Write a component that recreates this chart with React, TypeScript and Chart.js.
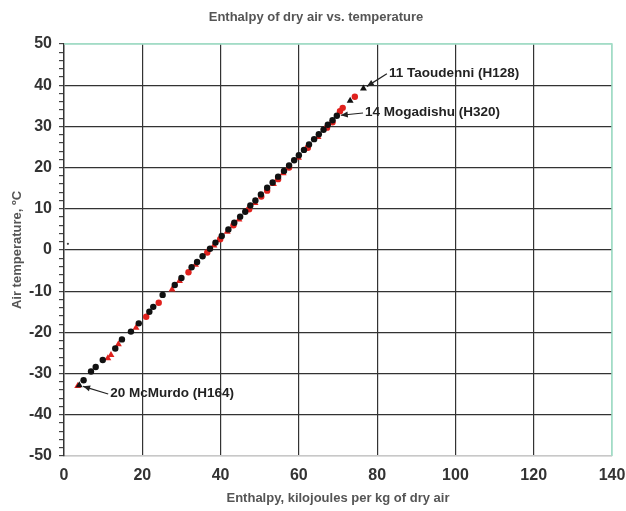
import { useEffect, useRef } from 'react';
import { Chart, registerables } from 'chart.js';

Chart.register(...registerables);

// Black station series
const blackTemp = [-32.8, -31.6, -29.5, -28.4, -26.7, -23.9, -21.7, -19.8, -17.8, -15.0, -13.8, -10.9, -8.5, -6.8, -4.2, -2.9, -1.5, 0.3, 1.8, 3.4, 5.0, 6.6, 8.1, 9.3, 10.8, 12.0, 13.5, 15.1, 16.4, 17.8, 19.2, 20.5, 21.8, 23.0, 24.3, 25.6, 26.9, 28.1, 29.2, 30.4, 31.5, 32.6, 36.2, 39.2];
const blackEnthalpy = [3.9, 5.0, 6.9, 8.1, 9.9, 13.1, 14.8, 17.1, 19.1, 21.8, 22.8, 25.2, 28.3, 30.0, 32.6, 34.0, 35.4, 37.3, 38.7, 40.3, 42.0, 43.5, 45.0, 46.3, 47.6, 48.9, 50.3, 51.9, 53.3, 54.7, 56.2, 57.5, 58.8, 60.0, 61.3, 62.6, 63.9, 65.1, 66.3, 67.4, 68.6, 69.7, 73.1, 76.5];
const blackShape = ['triangle', 'circle', 'circle', 'circle', 'circle', 'circle', 'circle', 'circle', 'circle', 'circle', 'circle', 'circle', 'circle', 'circle', 'circle', 'circle', 'circle', 'circle', 'circle', 'circle', 'circle', 'circle', 'circle', 'circle', 'circle', 'circle', 'circle', 'circle', 'circle', 'circle', 'circle', 'circle', 'circle', 'circle', 'circle', 'circle', 'circle', 'circle', 'circle', 'circle', 'circle', 'circle', 'triangle', 'triangle'];

// Red station series
const redTemp = [-33.0, -26.3, -25.5, -22.9, -18.9, -16.2, -12.8, -9.6, -7.5, -5.4, -3.6, -0.6, 1.1, 2.6, 4.4, 6.0, 7.4, 9.9, 11.4, 13.0, 14.4, 16.0, 17.2, 18.6, 20.0, 22.4, 24.8, 27.4, 29.7, 31.0, 33.7, 34.5, 37.2];
const redEnthalpy = [3.5, 11.2, 12.0, 13.9, 18.4, 21.0, 24.2, 27.6, 29.5, 31.8, 33.6, 36.6, 38.3, 39.9, 41.7, 43.3, 44.7, 47.3, 48.8, 50.4, 51.9, 53.5, 54.7, 56.0, 57.5, 59.9, 62.3, 64.9, 67.2, 68.6, 70.5, 71.2, 74.3];
const redShape = ['triangle', 'triangle', 'triangle', 'triangle', 'triangle', 'circle', 'circle', 'triangle', 'triangle', 'circle', 'triangle', 'circle', 'triangle', 'circle', 'triangle', 'circle', 'triangle', 'circle', 'triangle', 'circle', 'circle', 'triangle', 'circle', 'triangle', 'circle', 'triangle', 'circle', 'triangle', 'circle', 'circle', 'circle', 'circle', 'circle'];

// Stray speck
const strayTemp = [1.5];
const strayEnthalpy = [1.0];

// Labelled stations
const labelNames = ['11 Taoudenni (H128)', '14 Mogadishu (H320)', '20 McMurdo (H164)'];
const labelPointX = [76.5, 69.7, 3.9];
const labelPointY = [39.2, 32.6, -32.8];
const labelTextX = [83.0, 76.9, 11.8];
const labelTextY = [43.0, 33.5, -34.7];

const xMin = 0, xMax = 140, xStep = 20;
const yMin = -50, yMax = 50, yStep = 2, yMajor = 10;

const titleText = 'Enthalpy of dry air vs. temperature';
const xTitle = 'Enthalpy, kilojoules per kg of dry air';
const yTitle = 'Air temperature, ºC';

const FONT = '"Liberation Sans", Arial, sans-serif';
const TEAL = '#a3dcc6';
const GRID = '#333333';

const toPoints = (xs: number[], ys: number[]) => xs.map((x, i) => ({ x, y: ys[i] }));

const framePlugin = {
  id: 'frame',
  beforeDatasetsDraw(chart: any) {
    const { ctx, chartArea: a } = chart;
    ctx.save();
    ctx.strokeStyle = TEAL;
    ctx.lineWidth = 1.5;
    ctx.beginPath();
    ctx.moveTo(a.left, a.top);
    ctx.lineTo(a.right, a.top);
    ctx.lineTo(a.right, a.bottom);
    ctx.stroke();
    ctx.fillStyle = '#555';
    ctx.font = 'bold 13px ' + FONT;
    ctx.textAlign = 'center';
    ctx.textBaseline = 'middle';
    ctx.fillText(titleText, chart.width / 2 + 3, 17);
    ctx.restore();
  },
};

const annotPlugin = {
  id: 'annot',
  afterDatasetsDraw(chart: any) {
    const { ctx } = chart;
    const xs = chart.scales.x;
    const ys = chart.scales.y;
    ctx.save();
    ctx.font = 'bold 13.5px ' + FONT;
    ctx.fillStyle = '#222';
    ctx.textAlign = 'left';
    ctx.textBaseline = 'middle';
    labelNames.forEach((name, i) => {
      const px = xs.getPixelForValue(labelPointX[i]);
      const py = ys.getPixelForValue(labelPointY[i]);
      const tx = xs.getPixelForValue(labelTextX[i]);
      const ty = ys.getPixelForValue(labelTextY[i]);
      ctx.fillText(name, tx, ty);
      const sx = tx - 2;
      const sy = ty + 1;
      const dx = sx - px;
      const dy = sy - py;
      const len = Math.hypot(dx, dy);
      const ux = dx / len;
      const uy = dy / len;
      const ex = px + ux * 4;
      const ey = py + uy * 4;
      ctx.strokeStyle = '#222';
      ctx.lineWidth = 1.2;
      ctx.beginPath();
      ctx.moveTo(sx, sy);
      ctx.lineTo(ex, ey);
      ctx.stroke();
      const hl = 7, hw = 3;
      ctx.beginPath();
      ctx.moveTo(ex, ey);
      ctx.lineTo(ex + ux * hl - uy * hw, ey + uy * hl + ux * hw);
      ctx.lineTo(ex + ux * hl + uy * hw, ey + uy * hl - ux * hw);
      ctx.closePath();
      ctx.fill();
    });
    ctx.restore();
  },
};

export default function App() {
  const ref = useRef<HTMLCanvasElement>(null);
  useEffect(() => {
    if (!ref.current) return;
    const chart = new Chart(ref.current, {
      type: 'scatter',
      data: {
        datasets: [
          {
            label: 'black',
            data: toPoints(blackEnthalpy, blackTemp),
            backgroundColor: '#111',
            borderColor: '#111',
            borderWidth: 0,
            pointStyle: blackShape as any,
            pointRadius: blackShape.map((s) => (s === 'triangle' ? 4 : 3.2)),
          },
          {
            label: 'red',
            data: toPoints(redEnthalpy, redTemp),
            backgroundColor: '#e0211d',
            borderColor: '#e0211d',
            borderWidth: 0,
            pointStyle: redShape as any,
            pointRadius: redShape.map((s) => (s === 'triangle' ? 4 : 3.2)),
          },
          {
            label: 'stray',
            data: toPoints(strayEnthalpy, strayTemp),
            backgroundColor: '#444',
            borderWidth: 0,
            pointRadius: 1.1,
          },
        ],
      },
      options: {
        animation: false,
        responsive: false,
        layout: { padding: { left: 0, right: 14, top: 44, bottom: 0 } },
        plugins: {
          legend: { display: false },
          tooltip: { enabled: false },
          title: { display: false },
        },
        scales: {
          x: {
            type: 'linear',
            min: xMin,
            max: xMax,
            ticks: {
              stepSize: xStep,
              color: '#333',
              font: { family: FONT, size: 16, weight: 'bold' },
              padding: 10,
              maxRotation: 0,
            },
            grid: {
              drawTicks: false,
              color: (c: any) => (c.tick && c.tick.value === xMax ? TEAL : c.tick && c.tick.value === xMin ? 'transparent' : GRID),
              lineWidth: 1.2,
            },
            border: { display: true, color: '#c8c8c8', width: 1.5 },
            title: {
              display: true,
              text: xTitle,
              color: '#555',
              font: { family: FONT, size: 13, weight: 'bold' },
              padding: { top: 0, bottom: 5 },
            },
            afterFit: (s: any) => {
              s.height = 55;
              s.paddingLeft = 0;
              s.paddingRight = 0;
            },
          } as any,
          y: {
            type: 'linear',
            min: yMin,
            max: yMax,
            ticks: {
              stepSize: yStep,
              autoSkip: false,
              color: '#333',
              font: { family: FONT, size: 16, weight: 'bold' },
              padding: 7,
              callback: (v: any) => (Number(v) % yMajor === 0 ? String(v) : ''),
            },
            grid: {
              drawTicks: true,
              tickLength: 5,
              tickColor: '#444',
              color: (c: any) => {
                const v = c.tick ? c.tick.value : 0;
                if (v % yMajor !== 0) return 'transparent';
                if (v === yMax) return TEAL;
                if (v === yMin) return '#c8c8c8';
                return GRID;
              },
              lineWidth: 1.2,
            },
            border: { display: true, color: '#333', width: 1.5 },
            title: {
              display: true,
              text: yTitle,
              color: '#555',
              font: { family: FONT, size: 13, weight: 'bold' },
              padding: { top: 10, bottom: 0 },
            },
            afterFit: (s: any) => {
              s.width = 64;
              s.paddingTop = 0;
              s.paddingBottom = 0;
            },
          } as any,
        },
      },
      plugins: [framePlugin, annotPlugin],
    });
    return () => chart.destroy();
  }, []);
  return (
    <div style={{ position: 'absolute', left: 0, top: 0, width: 626, height: 511, background: '#fff' }}>
      <canvas ref={ref} width={626} height={511} />
    </div>
  );
}
